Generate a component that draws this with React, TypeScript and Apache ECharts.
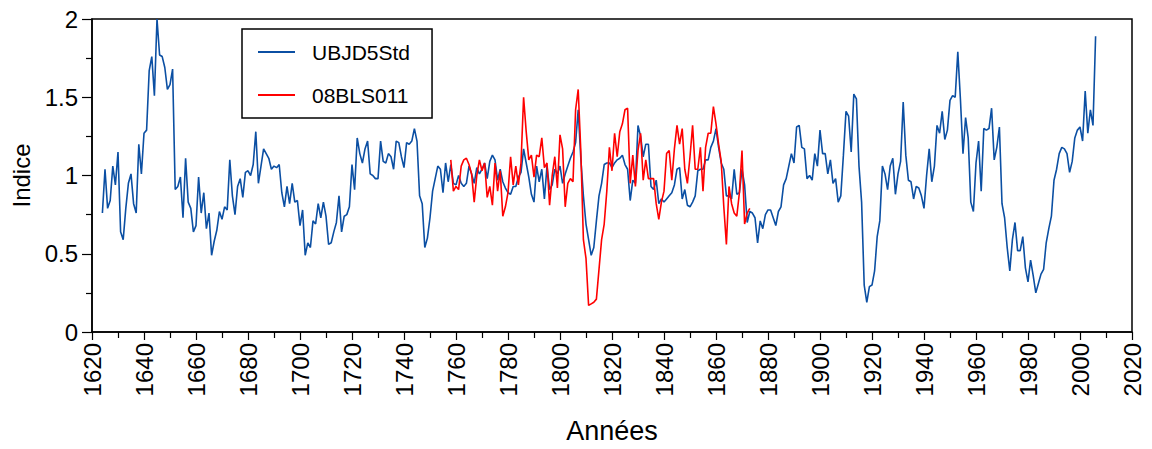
import React, { useEffect, useRef } from "react";
import * as echarts from "echarts";

const blueStart = 1624;
const blueValues = [
  0.76, 1.04, 0.79, 0.84, 1.06, 0.94,
  1.15, 0.64, 0.59, 0.79, 0.95, 1.01, 0.82, 0.76, 1.2, 1.01,
  1.27, 1.29, 1.67, 1.76, 1.51, 2.0, 1.77, 1.76, 1.69, 1.55,
  1.58, 1.68, 0.91, 0.93, 0.99, 0.73, 1.11, 0.83, 0.79, 0.64,
  0.68, 0.99, 0.76, 0.89, 0.66, 0.76, 0.49, 0.58, 0.65, 0.77,
  0.72, 0.8, 0.78, 1.1, 0.87, 0.75, 0.93, 0.98, 0.86, 1.02,
  1.03, 1.0, 1.07, 1.28, 0.95, 1.06, 1.17, 1.14, 1.11, 1.04,
  1.06, 1.05, 1.07, 0.89, 0.8, 0.93, 0.82, 0.95, 0.83, 0.84,
  0.68, 0.78, 0.49, 0.57, 0.54, 0.71, 0.69, 0.82, 0.73, 0.83,
  0.74, 0.56, 0.57, 0.64, 0.7, 0.87, 0.64, 0.74, 0.75, 0.8,
  1.07, 0.91, 1.24, 1.14, 1.08, 1.17, 1.22, 1.01, 1.0, 0.98,
  0.98, 1.22, 1.09, 1.08, 1.14, 1.12, 1.04, 1.22, 1.21, 1.12,
  1.05, 1.21, 1.2, 1.22, 1.3, 1.22, 0.87, 0.82, 0.54, 0.6,
  0.73, 0.9, 0.98, 1.06, 1.04, 0.89, 1.08, 0.96, 1.07, 0.95,
  0.94, 1.0, 0.95, 0.93, 0.95, 1.06, 1.01, 0.95, 1.05, 1.01,
  1.04, 1.08, 0.98, 1.09, 1.13, 1.1, 0.97, 1.04, 0.96, 0.92,
  0.89, 0.88, 0.93, 0.93, 0.99, 1.02, 1.17, 1.08, 0.99, 0.88,
  0.83, 1.06, 0.96, 1.04, 0.85, 1.06, 0.91, 0.94, 1.04, 1.01,
  1.06, 0.95, 1.01, 1.06, 1.11, 1.15, 1.21, 1.42, 1.11, 0.87,
  0.69, 0.59, 0.49, 0.54, 0.71, 0.87, 0.95, 1.07, 1.08, 1.08,
  1.05, 1.08, 1.1, 1.11, 1.13, 1.07, 1.04, 0.84, 0.97, 0.95,
  1.32, 1.25, 1.12, 1.2, 1.2, 0.93, 0.91, 0.97, 0.82, 0.85,
  0.83, 0.85, 0.87, 0.89, 0.94, 1.04, 1.05, 0.85, 0.91, 0.81,
  0.8, 0.83, 0.87, 1.03, 1.04, 1.04, 1.1, 1.1, 1.18, 1.22,
  1.3, 1.18, 1.08, 1.04, 0.87, 0.87, 0.85, 1.04, 0.88, 0.89,
  1.04, 0.94, 0.7, 0.77, 0.76, 0.73, 0.57, 0.71, 0.66, 0.75,
  0.78, 0.78, 0.73, 0.68, 0.77, 0.8, 0.94, 0.98, 1.06, 1.14,
  1.08, 1.31, 1.32, 1.18, 1.17, 0.98, 1.0, 0.97, 1.14, 1.06,
  1.29, 1.14, 1.14, 1.01, 1.1, 0.95, 0.98, 0.83, 0.87, 1.13,
  1.41, 1.38, 1.15, 1.52, 1.49, 1.06, 0.83, 0.3, 0.19, 0.29,
  0.3, 0.39, 0.61, 0.71, 1.06, 1.01, 0.91, 1.06, 1.11, 0.88,
  1.01, 1.09, 1.47, 1.13, 0.97, 0.96, 0.85, 0.93, 0.92, 0.87,
  0.79, 1.0, 1.17, 0.96, 1.06, 1.32, 1.27, 1.41, 1.23, 1.29,
  1.48, 1.51, 1.5, 1.79, 1.49, 1.14, 1.37, 1.24, 0.83, 0.77,
  1.08, 1.22, 0.9, 1.3, 1.29, 1.3, 1.43, 1.1, 1.18, 1.31,
  0.82, 0.73, 0.54, 0.39, 0.59, 0.7, 0.52, 0.52, 0.61, 0.41,
  0.32, 0.46, 0.36, 0.25, 0.31, 0.37, 0.4, 0.57, 0.66, 0.74,
  0.97, 1.04, 1.14, 1.18, 1.17, 1.14, 1.02, 1.09, 1.24, 1.29,
  1.31, 1.22, 1.54, 1.27, 1.42, 1.32, 1.89,
];

const redStart = 1758;
const redValues = [
  1.1, 0.9,
  0.93, 0.91, 1.06, 1.1, 1.11, 1.07, 1.01, 0.83, 1.0, 1.1,
  1.03, 1.08, 0.86, 0.93, 0.81, 1.08, 0.9, 1.03, 0.74, 0.8,
  0.89, 1.12, 0.94, 1.06, 0.94, 1.08, 1.5, 1.28, 1.1, 1.13,
  0.99, 1.13, 1.12, 1.24, 1.05, 1.08, 0.81, 1.0, 1.12, 0.92,
  1.26, 1.17, 0.8, 0.95, 0.98, 0.96, 1.42, 1.55, 1.16, 0.59,
  0.47, 0.17, 0.18, 0.19, 0.21, 0.4, 0.59, 0.69, 0.9, 1.18,
  1.03, 1.27, 1.12, 1.28, 1.33, 1.42, 1.43, 0.95, 1.13, 0.93,
  1.16, 1.27, 0.97, 1.1, 0.98, 0.98, 0.98, 0.82, 0.72, 0.83,
  0.9, 1.14, 1.16, 0.97, 1.17, 1.32, 1.2, 1.3, 1.04, 0.95,
  1.12, 1.32, 1.04, 1.04, 1.18, 0.9, 1.18, 1.27, 1.27, 1.44,
  1.33, 1.2, 1.09, 0.8, 0.56, 0.93, 0.82, 0.76, 0.74, 0.89,
  1.16, 0.69, 0.76, 0.79,
];

const seriesNames = ["UBJD5Std", "08BLS011"];
const xTitle = "Années";
const yTitle = "Indice";

const toPairs = (start: number, vals: number[]) =>
  vals.map((v, i) => [start + i, v]);

const FONT = "'Liberation Sans', Arial, sans-serif";

export default function App() {
  const ref = useRef<HTMLDivElement>(null);
  useEffect(() => {
    document.body.style.margin = "0";
    if (!ref.current) return;
    const chart = echarts.init(ref.current, null, { renderer: "svg" });
    chart.setOption({
      animation: false,
      backgroundColor: "#ffffff",
      grid: {
        left: 92,
        right: 20,
        top: 19,
        bottom: 116,
        show: true,
        borderColor: "#000",
        borderWidth: 1.5,
        backgroundColor: "transparent",
      },
      legend: {
        orient: "vertical",
        left: 242,
        top: 29,
        backgroundColor: "#fff",
        borderColor: "#000",
        borderWidth: 1.5,
        borderRadius: 0,
        padding: [11, 22, 11, 16],
        itemGap: 19,
        itemWidth: 37,
        itemHeight: 2,
        icon: "rect",
        data: seriesNames,
        textStyle: {
          fontFamily: FONT,
          fontSize: 21,
          color: "#000",
          lineHeight: 24,
          padding: [0, 0, 0, 12],
        },
      },
      xAxis: {
        type: "value",
        min: 1620,
        max: 2020,
        interval: 20,
        name: xTitle,
        nameLocation: "middle",
        nameGap: 85,
        nameTextStyle: { fontFamily: FONT, fontSize: 27, color: "#000" },
        axisLine: { show: true, lineStyle: { color: "#000", width: 1.5 } },
        axisTick: { show: true, length: 8, lineStyle: { color: "#000", width: 1.2 } },
        minorTick: { show: true, splitNumber: 2, length: 6, lineStyle: { color: "#000", width: 1.2 } },
        splitLine: { show: false },
        axisLabel: {
          rotate: 90,
          margin: 11,
          fontFamily: FONT,
          fontSize: 24,
          color: "#000",
          formatter: (v: number) => String(v),
        },
      },
      yAxis: {
        type: "value",
        min: 0,
        max: 2,
        interval: 0.5,
        name: yTitle,
        nameLocation: "middle",
        nameGap: 55,
        nameTextStyle: { fontFamily: FONT, fontSize: 24, color: "#000" },
        axisLine: { show: true, lineStyle: { color: "#000", width: 1.5 } },
        axisTick: { show: true, length: 10, lineStyle: { color: "#000", width: 1.2 } },
        minorTick: { show: true, splitNumber: 2, length: 6, lineStyle: { color: "#000", width: 1.2 } },
        splitLine: { show: false },
        axisLabel: {
          margin: 14,
          fontFamily: FONT,
          fontSize: 24,
          color: "#000",
          formatter: (v: number) => String(v),
        },
      },
      series: [
        {
          name: seriesNames[0],
          type: "line",
          data: toPairs(blueStart, blueValues),
          showSymbol: false,
          symbol: "none",
          lineStyle: { color: "#0b4fa3", width: 1.6 },
          itemStyle: { color: "#0b4fa3" },
          z: 2,
        },
        {
          name: seriesNames[1],
          type: "line",
          data: toPairs(redStart, redValues),
          showSymbol: false,
          symbol: "none",
          lineStyle: { color: "#ff0000", width: 1.6 },
          itemStyle: { color: "#ff0000" },
          z: 3,
        },
      ],
    });
    return () => chart.dispose();
  }, []);
  return <div ref={ref} style={{ width: 1152, height: 449 }} />;
}
